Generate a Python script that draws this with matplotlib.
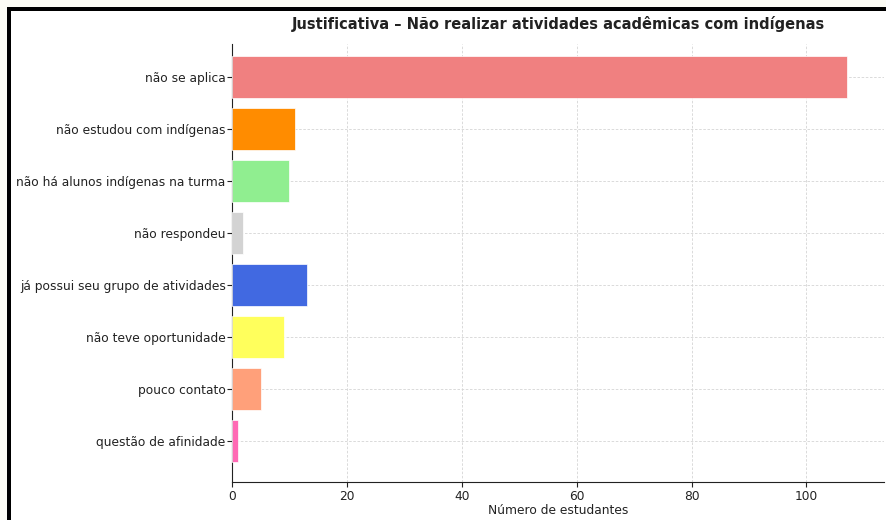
import matplotlib
matplotlib.use("Agg")
import matplotlib.pyplot as plt
from matplotlib.patches import Rectangle

plt.rcParams["font.family"] = ["DejaVu Sans"]

# dados
categorias = ["não se aplica", "não estudou com indígenas", "não há alunos indígenas na turma",
              "não respondeu", "já possui seu grupo de atividades", "não teve oportunidade",
              "pouco contato", "questão de afinidade"]
valores = [107, 11, 10, 2, 13, 9, 5, 1]
cores = ["#F08080", "#FF8C00", "#90EE90", "#D3D3D3", "#4169E1", "#FFFF5C", "#FFA07A", "#FF69B4"]

W, H = 886, 520
fig = plt.figure(figsize=(W / 100, H / 100), dpi=100)
fig.patch.set_facecolor("#FCFCF5")

# moldura preta da captura
fig.add_artist(Rectangle((7 / W, 0), 1, 1 - 7 / H, transform=fig.transFigure,
                         facecolor="black", edgecolor="none", zorder=-2))
fig.add_artist(Rectangle((11 / W, 0), 1, 1 - 11 / H, transform=fig.transFigure,
                         facecolor="white", edgecolor="none", zorder=-1))

ax = fig.add_axes([232 / W, 1 - 482 / H, (884 - 232) / W, (482 - 44) / H])
ax.set_facecolor("none")

ax.barh(categorias, valores, color=cores, height=0.8, edgecolor="white", linewidth=0.5, zorder=3)
ax.set_ylim(7.79, -0.63)
ax.set_xlim(0, 113.5)

ax.grid(True, linestyle=(0, (3, 2)), color="#d4d4d4", linewidth=0.6, zorder=0)
ax.spines["top"].set_visible(False)
ax.spines["right"].set_visible(False)
ax.spines["left"].set_color("#222222")
ax.spines["bottom"].set_color("#222222")
ax.tick_params(axis="both", labelsize=8.8, colors="#222222", length=3.5)
ax.tick_params(axis="y", pad=1)
ax.tick_params(axis="x", pad=2)

ax.set_xlabel("Número de estudantes", fontsize=8.8, color="#222222", labelpad=1)
fig.text((232 + 884) / 2 / W, 1 - 24 / H,
         "Justificativa – Não realizar atividades acadêmicas com indígenas",
         ha="center", va="center", fontsize=10.5, fontweight="bold", color="#222222")

fig.savefig("out.png", dpi=100, facecolor=fig.get_facecolor())
